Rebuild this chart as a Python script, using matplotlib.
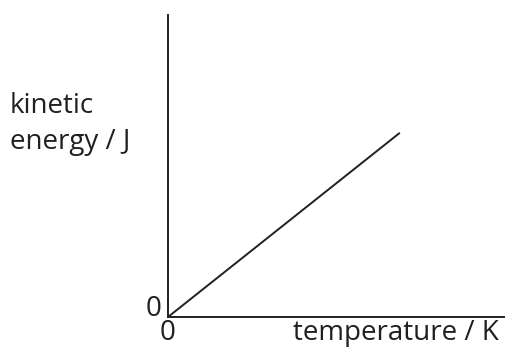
import matplotlib
matplotlib.use("Agg")
import matplotlib.pyplot as plt

temperature = [0, 0.69]
kinetic_energy = [0, 0.61]
x_label = "temperature / K"
y_label = "kinetic\nenergy / J"

plt.rcParams['font.family'] = ['Open Sans', 'DejaVu Sans']
W, H = 506, 354
fig = plt.figure(figsize=(W/100, H/100), dpi=100)
ax = fig.add_axes([168/W, 37/H, 336/W, 302/H])
col = '#231f20'
ax.plot(temperature, kinetic_energy, color=col, lw=1.4, solid_capstyle='butt')
ax.set_xlim(0, 1)
ax.set_ylim(0, 1)
for s in ['top', 'right']:
    ax.spines[s].set_visible(False)
for s in ['left', 'bottom']:
    ax.spines[s].set_color(col)
    ax.spines[s].set_linewidth(1.4)
ax.set_xticks([])
ax.set_yticks([])
fs = 20
ax.text(0.0, -0.005, "0", transform=ax.transAxes, ha='center', va='top', fontsize=fs, color=col)
ax.text(-0.018, 0.025, "0", transform=ax.transAxes, ha='right', va='center', fontsize=fs, color=col)
ax.text(0.985, -0.005, x_label, transform=ax.transAxes, ha='right', va='top', fontsize=fs, color=col)
fig.text(10/W, 1 - 124/H, y_label, ha='left', va='center', fontsize=fs, color=col, linespacing=1.35)
fig.savefig("out.png", dpi=100)
